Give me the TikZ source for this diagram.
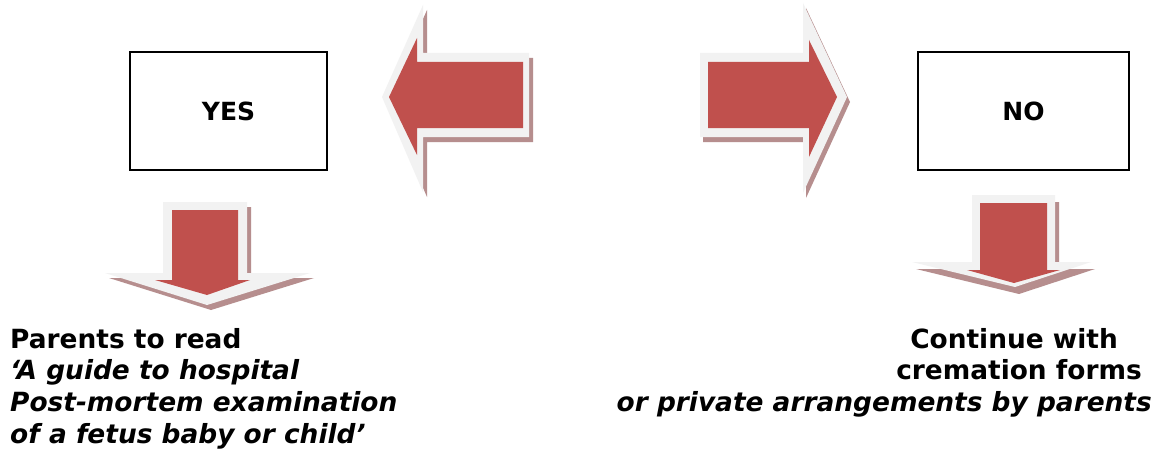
\documentclass[tikz,border=0pt]{standalone}
\usepackage{fontspec}
\setmainfont{DejaVu Sans}
\definecolor{arrred}{HTML}{C0504D}
\definecolor{bevel}{HTML}{F2F2F2}
\definecolor{shade}{HTML}{B68E8E}
\begin{document}
\begin{tikzpicture}[x=1pt,y=-1pt,
  redpart/.style={fill=arrred},
  bevelpart/.style={fill=bevel},
  shadowpart/.style={fill=shade},
  answerbox/.style={draw=black,line width=2pt,minimum width=197pt,minimum height=118pt,
    font=\fontsize{25}{30}\selectfont\bfseries,inner sep=0pt},
  blocktext/.style={font=\fontsize{26.4}{31.7}\selectfont\bfseries,inner sep=0pt}]
\useasboundingbox (0,0) rectangle (1161,452);
\fill[white] (0,0) rectangle (1161,452);

% boxes
\node[answerbox] (yes) at (228.5,111) {YES};
\node[answerbox,minimum width=211pt] (no) at (1023.5,111) {NO};

% left arrow
\begin{scope}[shift={(4,5)}]
\path[shadowpart] (382,97) -- (423,5) -- (423,53) -- (529,53) -- (529,137) -- (423,137) -- (423,192) -- cycle;
\end{scope}
\path[bevelpart] (382,97) -- (423,5) -- (423,53) -- (529,53) -- (529,137) -- (423,137) -- (423,192) -- cycle;
\path[redpart] (389,97) -- (417,38) -- (417,62) -- (523,62) -- (523,128) -- (417,128) -- (417,155) -- cycle;

% right arrow
\begin{scope}[shift={(3,5)}]
\path[shadowpart] (700,53) -- (803,53) -- (803,3) -- (847,97) -- (803,193) -- (803,137) -- (700,137) -- cycle;
\end{scope}
\path[bevelpart] (700,53) -- (803,53) -- (803,3) -- (847,97) -- (803,193) -- (803,137) -- (700,137) -- cycle;
\path[redpart] (708,62) -- (809,62) -- (809,40) -- (837,97) -- (809,157) -- (809,128) -- (708,128) -- cycle;

% left down arrow
\begin{scope}[shift={(4,5)}]
\path[shadowpart] (163,202) -- (247,202) -- (247,273) -- (310,273) -- (207,305) -- (105,273) -- (163,273) -- cycle;
\end{scope}
\path[bevelpart] (163,202) -- (247,202) -- (247,273) -- (310,273) -- (207,305) -- (105,273) -- (163,273) -- cycle;
\path[redpart] (172,210) -- (238,210) -- (238,280) -- (250,280) -- (207,295) -- (155,280) -- (172,280) -- cycle;

% right down arrow
\begin{scope}[shift={(4,7)}]
\path[shadowpart] (972,195) -- (1055,195) -- (1055,262) -- (1091,262) -- (1015,287) -- (912,262) -- (972,262) -- cycle;
\end{scope}
\path[bevelpart] (972,195) -- (1055,195) -- (1055,262) -- (1091,262) -- (1015,287) -- (912,262) -- (972,262) -- cycle;
\path[redpart] (980,203) -- (1047,203) -- (1047,270) -- (1060,270) -- (1014,283) -- (967,270) -- (980,270) -- cycle;

% texts
\node[blocktext,anchor=north west,align=left] (yestext) at (10,328)
  {Parents to read\\ \itshape ‘A guide to hospital\\ \itshape Post-mortem examination\\ \itshape of a fetus baby or child’};
\node[blocktext,anchor=north east,align=right] (notext) at (1152,328)
  {Continue with\hspace*{34pt}\mbox{}\\ cremation forms\hspace*{10pt}\mbox{}\\ \itshape or private arrangements by parents};
\end{tikzpicture}
\end{document}
